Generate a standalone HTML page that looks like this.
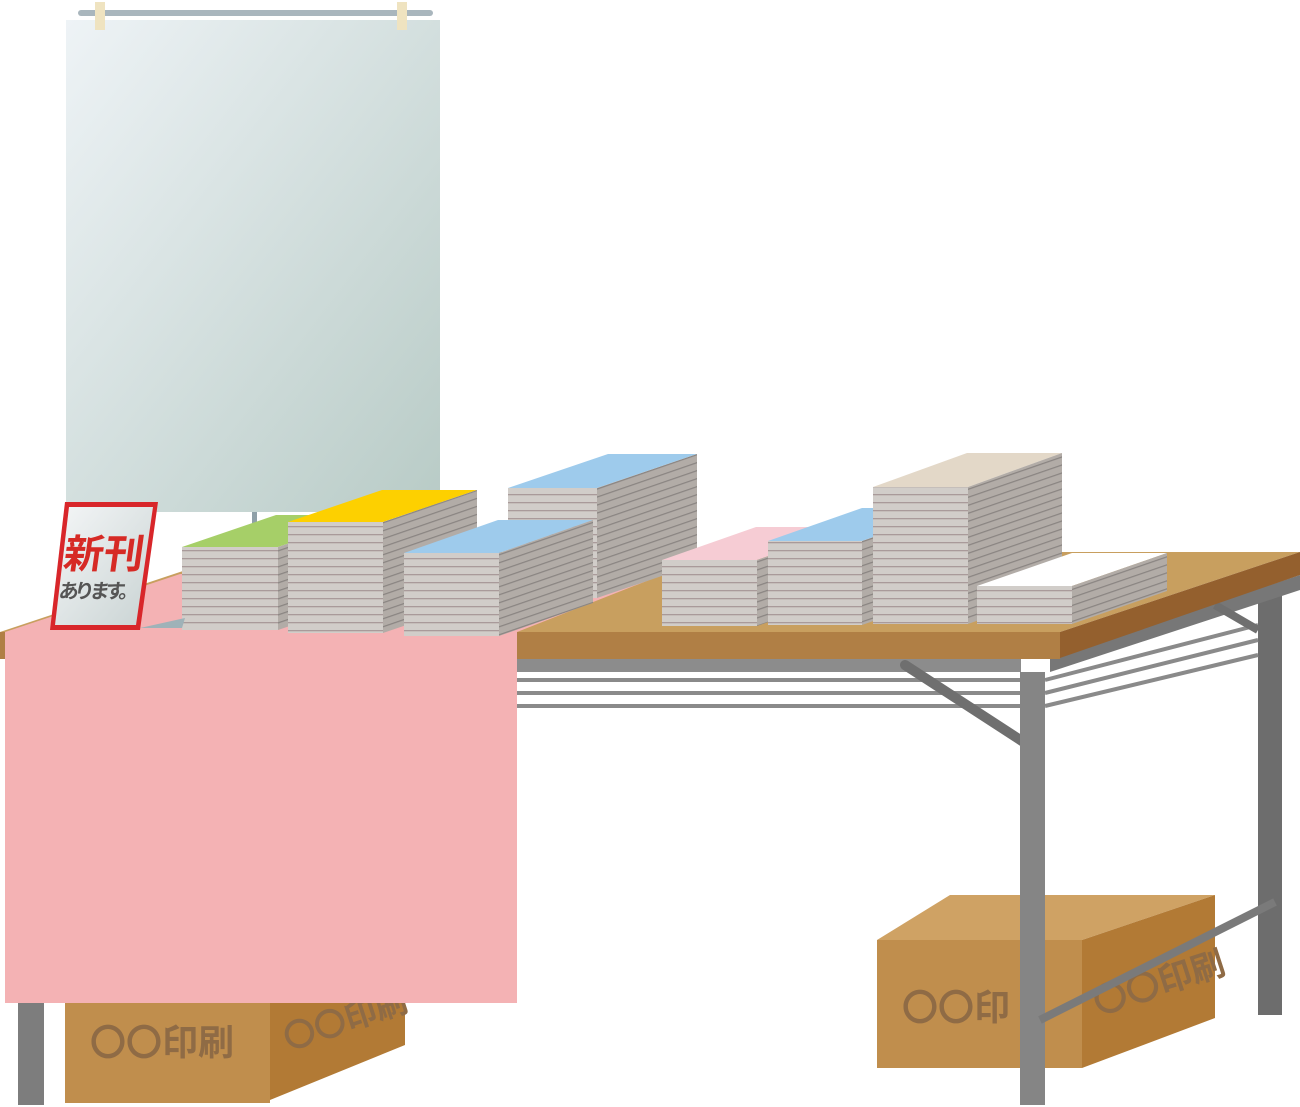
<!DOCTYPE html>
<html><head><meta charset="utf-8"><style>html,body{margin:0;padding:0;background:#fff}svg{display:block}</style></head><body>
<svg width="1300" height="1107" viewBox="0 0 1300 1107" xmlns="http://www.w3.org/2000/svg">
<defs>
<linearGradient id="pg" x1="0" y1="0" x2="1" y2="1"><stop offset="0" stop-color="#eef3f6"/><stop offset="1" stop-color="#b8cbc6"/></linearGradient>
<pattern id="fl" width="10" height="8" patternUnits="userSpaceOnUse"><rect width="10" height="8" fill="#d1cdc9"/><rect y="6" width="10" height="1.3" fill="#a99a9a"/></pattern>
<pattern id="sl" width="10" height="8" patternUnits="userSpaceOnUse" patternTransform="skewY(-19)"><rect width="10" height="8" fill="#b2aca7"/><rect y="6" width="10" height="1.3" fill="#8a8582"/></pattern>
<linearGradient id="sg" x1="0" y1="0" x2="1" y2="1"><stop offset="0" stop-color="#f4f6f7"/><stop offset="1" stop-color="#c9d3d3"/></linearGradient>
</defs>
<rect x="252" y="500" width="5" height="30" fill="#8fa0a8"/>
<rect x="66" y="20" width="374" height="492" fill="url(#pg)"/>
<rect x="78" y="10" width="355" height="6" rx="3" fill="#a9b6bd"/>
<rect x="95" y="2" width="10" height="28" fill="#efe3c0"/>
<rect x="397" y="2" width="10" height="28" fill="#efe3c0"/>
<polygon points="65,1003 200,960 405,960 270,1003" fill="#cfa264"/>
<rect x="65" y="1003" width="205" height="100" fill="#c08e4d"/>
<polygon points="270,1003 405,960 405,1045 270,1100" fill="#b27a35"/>
<text x="90" y="1055" font-family="Liberation Sans,'Noto Sans CJK JP',sans-serif" font-size="36" font-weight="bold" fill="#8f6b45">〇〇印刷</text>
<text x="288" y="1050" font-family="Liberation Sans,'Noto Sans CJK JP',sans-serif" font-size="32" font-weight="bold" fill="#8f6b45" transform="rotate(-18 288 1050)">〇〇印刷</text>
<polygon points="877,940 950,895 1215,895 1082,940" fill="#cfa264"/>
<rect x="877" y="940" width="205" height="128" fill="#c08e4d"/>
<polygon points="1082,940 1215,895 1215,1018 1082,1068" fill="#b27a35"/>
<text x="902" y="1020" font-family="Liberation Sans,'Noto Sans CJK JP',sans-serif" font-size="36" font-weight="bold" fill="#8f6b45">〇〇印</text>
<text x="1098" y="1015" font-family="Liberation Sans,'Noto Sans CJK JP',sans-serif" font-size="34" font-weight="bold" fill="#8f6b45" transform="rotate(-18 1098 1015)">〇〇印刷</text>
<rect x="18" y="1000" width="26" height="105" fill="#7d7d7d"/>
<rect x="1258" y="590" width="24" height="425" fill="#6d6d6d"/>
<g stroke="#8a8a8a" stroke-width="4">
<line x1="516" y1="680" x2="1020" y2="680"/><line x1="516" y1="693" x2="1020" y2="693"/><line x1="516" y1="706" x2="1020" y2="706"/>
<line x1="1045" y1="680" x2="1258" y2="625"/><line x1="1045" y1="693" x2="1258" y2="640"/><line x1="1045" y1="706" x2="1258" y2="655"/>
</g>
<rect x="516" y="658" width="505" height="14" fill="#8c8c8c"/>
<polygon points="1050,658 1300,575 1300,590 1050,672" fill="#777"/>
<line x1="905" y1="665" x2="1028" y2="745" stroke="#6f6f6f" stroke-width="10" stroke-linecap="round"/>
<line x1="1215" y1="605" x2="1258" y2="630" stroke="#6f6f6f" stroke-width="8"/>
<rect x="1020" y="672" width="25" height="433" fill="#858585"/>
<line x1="1040" y1="1020" x2="1275" y2="902" stroke="#7a7a7a" stroke-width="8"/>
<polygon points="0,632 240,552 1300,552 1060,632" fill="#c89f5f"/>
<rect x="0" y="632" width="1060" height="27" fill="#b07f45"/>
<polygon points="1060,632 1300,552 1300,575 1060,658" fill="#94602e"/>
<polygon points="5,632 180,574 700,560 517,632" fill="#f4b2b4"/>
<rect x="5" y="632" width="512" height="371" fill="#f4b2b4"/>
<g>
<polygon points="508,488 608,454 697,454 597,488" fill="#9ecbec"/><rect x="508" y="488" width="89" height="110" fill="url(#fl)"/><polygon points="597,488 697,454 697,564 597,598" fill="url(#sl)"/>
<polygon points="182,547 276,515 372,515 278,547" fill="#a6cf68"/><rect x="182" y="547" width="96" height="83" fill="url(#fl)"/><polygon points="278,547 372,515 372,598 278,630" fill="url(#sl)"/>
<polygon points="288,522 382,490 477,490 383,522" fill="#fdd000"/><rect x="288" y="522" width="95" height="111" fill="url(#fl)"/><polygon points="383,522 477,490 477,601 383,633" fill="url(#sl)"/>
<polygon points="404,553 498,520 593,520 499,553" fill="#9ecbec"/><rect x="404" y="553" width="95" height="83" fill="url(#fl)"/><polygon points="499,553 593,520 593,603 499,636" fill="url(#sl)"/>
<polygon points="662,560 756,527 851,527 757,560" fill="#f6ccd4"/><rect x="662" y="560" width="95" height="66" fill="url(#fl)"/><polygon points="757,560 851,527 851,593 757,626" fill="url(#sl)"/>
<polygon points="768,541 862,508 956,508 862,541" fill="#9ecbec"/><rect x="768" y="541" width="94" height="84" fill="url(#fl)"/><polygon points="862,541 956,508 956,592 862,625" fill="url(#sl)"/>
<polygon points="873,487 967,453 1062,453 968,487" fill="#e3d8c8"/><rect x="873" y="487" width="95" height="137" fill="url(#fl)"/><polygon points="968,487 1062,453 1062,590 968,624" fill="url(#sl)"/>
<polygon points="977,586 1072,553 1167,553 1072,586" fill="#ffffff"/><rect x="977" y="586" width="95" height="38" fill="url(#fl)"/><polygon points="1072,586 1167,553 1167,591 1072,624" fill="url(#sl)"/>
</g>
<polygon points="140,628 185,618 182,628" fill="#9fb2b8"/>
<polygon points="65,502 158,502 140,630 50,630" fill="#d8262a"/>
<polygon points="69,507 153,507 136,625 55,625" fill="url(#sg)"/>
<text x="64" y="568" font-family="Liberation Sans,'Noto Sans CJK JP',sans-serif" font-size="40" font-weight="bold" fill="#d62a25" transform="skewX(-8) translate(78 0)" textLength="80">新刊</text>
<text x="58" y="598" font-family="Liberation Sans,'Noto Sans CJK JP',sans-serif" font-size="20" font-weight="bold" fill="#555" transform="skewX(-8) translate(84 0)" textLength="80">あります。</text>
</svg>
</body></html>
